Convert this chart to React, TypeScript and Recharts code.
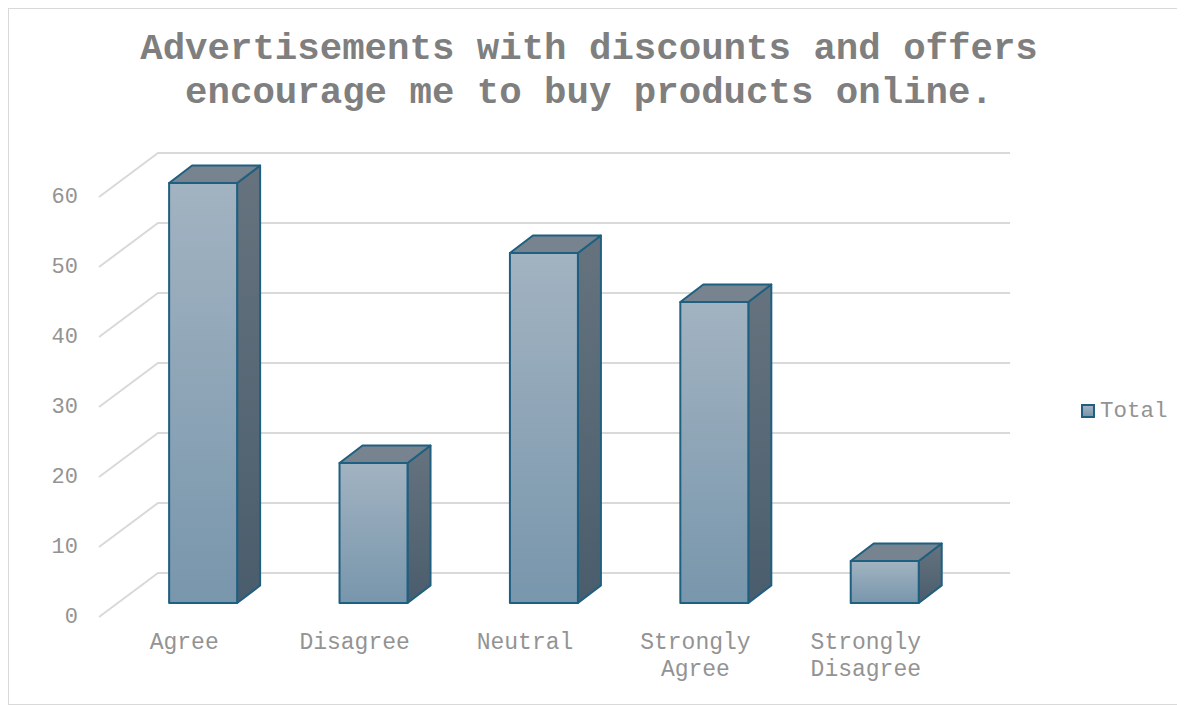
import { Bar, BarChart, CartesianGrid, XAxis, YAxis } from 'recharts'

const categories = ['Agree', 'Disagree', 'Neutral', 'Strongly Agree', 'Strongly Disagree']
const totals = [60, 20, 50, 43, 6]
const yTicks = [0, 10, 20, 30, 40, 50, 60]

const data = categories.map((name, i) => ({ name, total: totals[i] }))

const FONT = '"Courier New", "Liberation Mono", monospace'
const TEXT = '#939393'
const EDGE = '#1f5f80'
const GRID = '#d9d9d9'

// fake 3d: offsets from the bar face plane
const FRONT = { dx: -19, dy: 14 } // axis label plane
const WALL = { dx: 40, dy: -30 } // back wall
const SIDE = { dx: 23, dy: -17.5 } // bar depth

function GridLine(props: any) {
  const { x1, x2, y1, index } = props
  const d =
    `M${x1 + FRONT.dx},${y1 + FRONT.dy} ` +
    `L${x1 + WALL.dx},${y1 + WALL.dy} ` +
    `L${x2 + WALL.dx},${y1 + WALL.dy}`
  return <path key={`grid-${index}`} d={d} stroke={GRID} strokeWidth={2} fill="none" />
}

function Box3D(props: any) {
  const { x, y, width, height } = props
  if (height == null || width == null) return null
  const r = x + width
  const b = y + height
  const { dx, dy } = SIDE
  return (
    <g strokeLinejoin="round">
      <polygon
        points={`${r},${y} ${r + dx},${y + dy} ${r + dx},${b + dy} ${r},${b}`}
        fill="url(#boxSide)"
        stroke={EDGE}
        strokeWidth={2}
      />
      <polygon
        points={`${x},${y} ${x + dx},${y + dy} ${r + dx},${y + dy} ${r},${y}`}
        fill="#77848f"
        stroke={EDGE}
        strokeWidth={2}
      />
      <rect x={x} y={y} width={width} height={height} fill="url(#boxFront)" stroke={EDGE} strokeWidth={2} />
    </g>
  )
}

function YTick({ x, y, payload }: any) {
  return (
    <text
      x={x}
      y={y + FRONT.dy}
      textAnchor="end"
      dominantBaseline="central"
      fill={TEXT}
      fontSize={22}
      fontFamily={FONT}
    >
      {payload.value}
    </text>
  )
}

function XTick({ x, y, payload }: any) {
  const lines = String(payload.value).split(' ')
  return (
    <text
      x={x + FRONT.dx}
      textAnchor="middle"
      dominantBaseline="central"
      fill={TEXT}
      fontSize={23}
      fontFamily={FONT}
    >
      {lines.map((line, i) => (
        <tspan key={line} x={x + FRONT.dx} y={y + 40 + i * 27}>
          {line}
        </tspan>
      ))}
    </text>
  )
}

export default function App() {
  return (
    <div
      style={{
        position: 'relative',
        width: 1177,
        height: 697,
        border: `1px solid ${GRID}`,
        boxSizing: 'border-box',
        background: '#fff',
        fontFamily: FONT,
      }}
    >
      <div
        style={{
          position: 'absolute',
          left: 0,
          top: 18,
          width: 1160,
          textAlign: 'center',
          fontSize: 37.4,
          lineHeight: '44px',
          fontWeight: 'bold',
          color: '#7f7f7f',
        }}
      >
        Advertisements with discounts and offers
        <br />
        encourage me to buy products online.
      </div>

      <BarChart
        width={1175}
        height={695}
        data={data}
        margin={{ top: 174, right: 214, bottom: 41, left: 0 }}
        barCategoryGap="30%"
      >
        <defs>
          <linearGradient id="boxFront" x1="0" y1="0" x2="0" y2="1">
            <stop offset="0%" stopColor="#a2b3c1" />
            <stop offset="100%" stopColor="#7896ac" />
          </linearGradient>
          <linearGradient id="boxSide" x1="0" y1="0" x2="0" y2="1">
            <stop offset="0%" stopColor="#66737f" />
            <stop offset="100%" stopColor="#4a5d6c" />
          </linearGradient>
        </defs>
        <CartesianGrid vertical={false} horizontal={GridLine} />
        <XAxis
          dataKey="name"
          height={60}
          axisLine={false}
          tickLine={false}
          tickSize={0}
          tickMargin={0}
          interval={0}
          tick={<XTick />}
        />
        <YAxis
          width={109}
          domain={[0, 60]}
          ticks={yTicks}
          axisLine={false}
          tickLine={false}
          tickSize={0}
          tickMargin={40}
          tick={<YTick />}
        />
        <Bar dataKey="total" name="Total" shape={<Box3D />} isAnimationActive={false} />
      </BarChart>

      <div
        style={{
          position: 'absolute',
          left: 1072,
          top: 389,
          display: 'flex',
          alignItems: 'center',
          gap: 5,
          fontSize: 22.5,
          color: TEXT,
        }}
      >
        <span
          style={{
            width: 10,
            height: 10,
            border: `2px solid ${EDGE}`,
            background: 'linear-gradient(#a2b3c1, #7896ac)',
          }}
        />
        <span>Total</span>
      </div>
    </div>
  )
}
